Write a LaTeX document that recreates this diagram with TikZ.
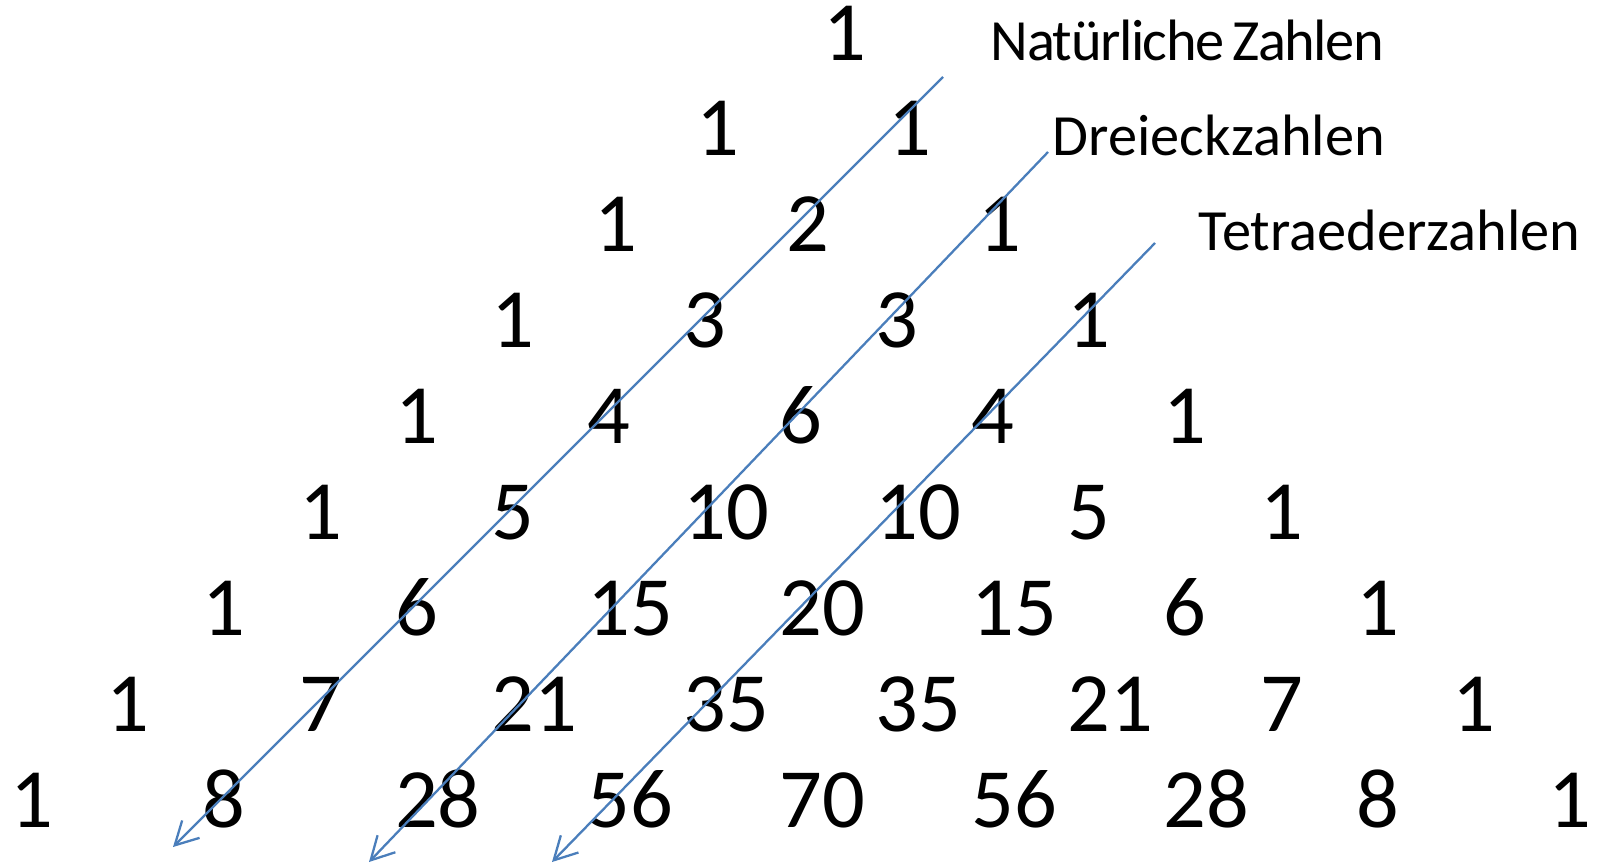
\documentclass[tikz,border=0pt]{standalone}
\usepackage{fontspec}
\setmainfont{Carlito}
\newfontfamily\seqfont[WordSpace=0.7]{Carlito}
\usepackage{xcolor}
\usetikzlibrary{arrows.meta}

\definecolor{lineblue}{RGB}{74,126,187}

\begin{document}
\begin{tikzpicture}[x=0.01cm, y=-0.01cm,
    num/.style={anchor=base west, inner sep=0pt, font=\fontsize{24}{28}\selectfont},
    seqname/.style={anchor=base west, inner sep=0pt, font=\seqfont\fontsize{16.6}{19}\selectfont},
    diag/.style={draw=lineblue, line width=0.65pt, -{Straight Barb[length=6.5pt, width=7pt]}}]
    \useasboundingbox (0,0) rectangle (1601,863);

    % Pascal triangle, row by row (row / shift / entries)
    \foreach \r/\s/\vals in {0/44/{1}, 1/13/{1,1}, 2/7/{1,2,1}, 3/0/{1,3,3,1},
        4/0/{1,4,6,4,1}, 5/0/{1,5,10,10,5,1}, 6/0/{1,6,15,20,15,6,1},
        7/0/{1,7,21,35,35,21,7,1}, 8/0/{1,8,28,56,70,56,28,8,1}}
    {
        \foreach \v [count=\k from 0] in \vals
            \node[num] (c\r-\k) at ({10+(8-\r)*96.1+\k*192.2+\s}, {60+\r*95.9}) {\v};
    }

    % Names of the diagonals
    \node[seqname] (natlabel) at (990,60) {\addfontfeatures{LetterSpace=-2.5}Natürliche Zahlen};
    \node[seqname] (trilabel) at (1052,155) {Dreieckzahlen};
    \node[seqname] (tetlabel) at (1198,250) {Tetraederzahlen};

    % Diagonal arrows
    \coordinate (natstart) at (943,77);
    \coordinate (natend) at (173,847);
    \coordinate (tristart) at (1048,152);
    \coordinate (triend) at (369,862);
    \coordinate (tetstart) at (1155,243);
    \coordinate (tetend) at (552,862);

    \draw[diag] (natstart) -- (natend);
    \draw[diag] (tristart) -- (triend);
    \draw[diag] (tetstart) -- (tetend);
\end{tikzpicture}
\end{document}
